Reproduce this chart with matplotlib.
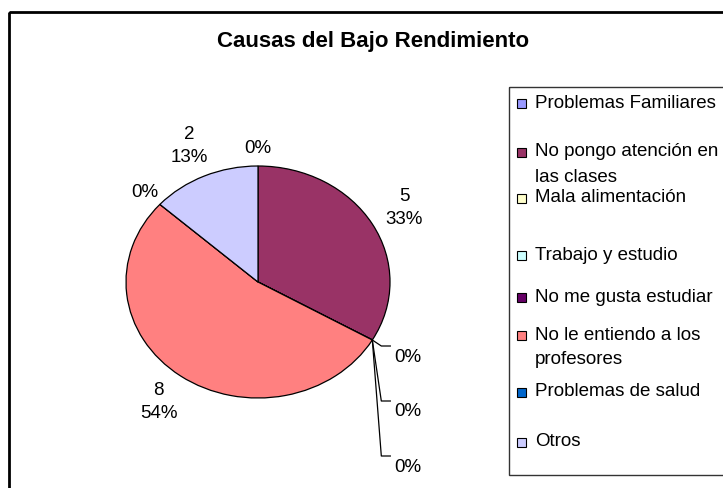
import numpy as np
from matplotlib import pyplot as plt
from matplotlib.patches import Rectangle

plt.rcParams['font.family'] = ['Liberation Sans', 'DejaVu Sans']

# data
causas = ["Problemas Familiares", "No pongo atención en\nlas clases", "Mala alimentación",
          "Trabajo y estudio", "No me gusta estudiar", "No le entiendo a los\nprofesores",
          "Problemas de salud", "Otros"]
valores = [0, 5, 0, 0, 0, 8, 0, 2]
porcentajes = ["0%", "33%", "0%", "0%", "0%", "54%", "0%", "13%"]
colores = ["#9999FF", "#993366", "#FFFFCC", "#CCFFFF", "#660066", "#FF8080", "#0066CC", "#CCCCFF"]

W, H = 723, 488
fig = plt.figure(figsize=(W / 100, H / 100), dpi=100)

# overlay in pixel coords for frame, title and legend
ov = fig.add_axes([0, 0, 1, 1])
ov.set_xlim(0, W)
ov.set_ylim(H, 0)
ov.axis("off")
ov.add_patch(Rectangle((9, 12), 900, 600, fill=False, ec="black", lw=2))
ov.text(373, 42, "Causas del Bajo Rendimiento", ha="center", va="center",
        fontsize=16, fontweight="bold")

# legend (excel-like, uneven spacing)
ov.add_patch(Rectangle((509, 87), 400, 388, fill=False, ec="#333333", lw=1))
leg_y = [103, 152, 198, 255, 297, 335, 392, 442]
for lab, col, y in zip(causas, colores, leg_y):
    ov.add_patch(Rectangle((517, y - 4.5), 9, 9, fc=col, ec="black", lw=0.8))
    for i, line in enumerate(lab.split("\n")):
        ov.text(535, y + i * 25, line, ha="left", va="center", fontsize=13.5)

# pie, stretched like the original (rx=132, ry=116 px, center 258,282)
cx, cy, rx, ry = 258, 282, 132, 116
ax = fig.add_axes([(cx - rx) / W, (H - cy - ry) / H, 2 * rx / W, 2 * ry / H])
wedges, _ = ax.pie(valores, colors=colores, startangle=90, counterclock=False,
                   wedgeprops=dict(edgecolor="black", linewidth=0.9))
ax.set_aspect("auto")
ax.set_xlim(-1, 1)
ax.set_ylim(-1, 1)

# labels
seen = {}
for w, v, p in zip(wedges, valores, porcentajes):
    ang = np.deg2rad((w.theta1 + w.theta2) / 2)
    if v > 0:
        r = 1.28
        ax.text(r * np.cos(ang), r * np.sin(ang), f"{v}\n{p}", ha="center", va="center",
                fontsize=13.5, linespacing=1.45)
        continue
    key = round(w.theta1, 3)
    k = seen.get(key, 0)
    seen[key] = k + 1
    n_same = sum(1 for ww, vv in zip(wedges, valores) if vv == 0 and round(ww.theta1, 3) == key)
    if n_same == 1:
        r = 1.15
        ax.text(r * np.cos(ang), r * np.sin(ang), p, ha="center", va="center", fontsize=13.5)
    else:
        # stacked zero labels with leader lines
        x0, y0 = np.cos(ang), np.sin(ang)
        ty = y0 - (17 + 55 * k) / ry
        cxn = x0 + 9 / rx
        ax.plot([x0, cxn, x0 + 18 / rx], [y0, ty + 11 / ry, ty + 11 / ry],
                color="black", lw=0.9, clip_on=False)
        ax.text(x0 + 22 / rx, ty, p, ha="left", va="center", fontsize=13.5)

fig.savefig("out.png", dpi=100)
